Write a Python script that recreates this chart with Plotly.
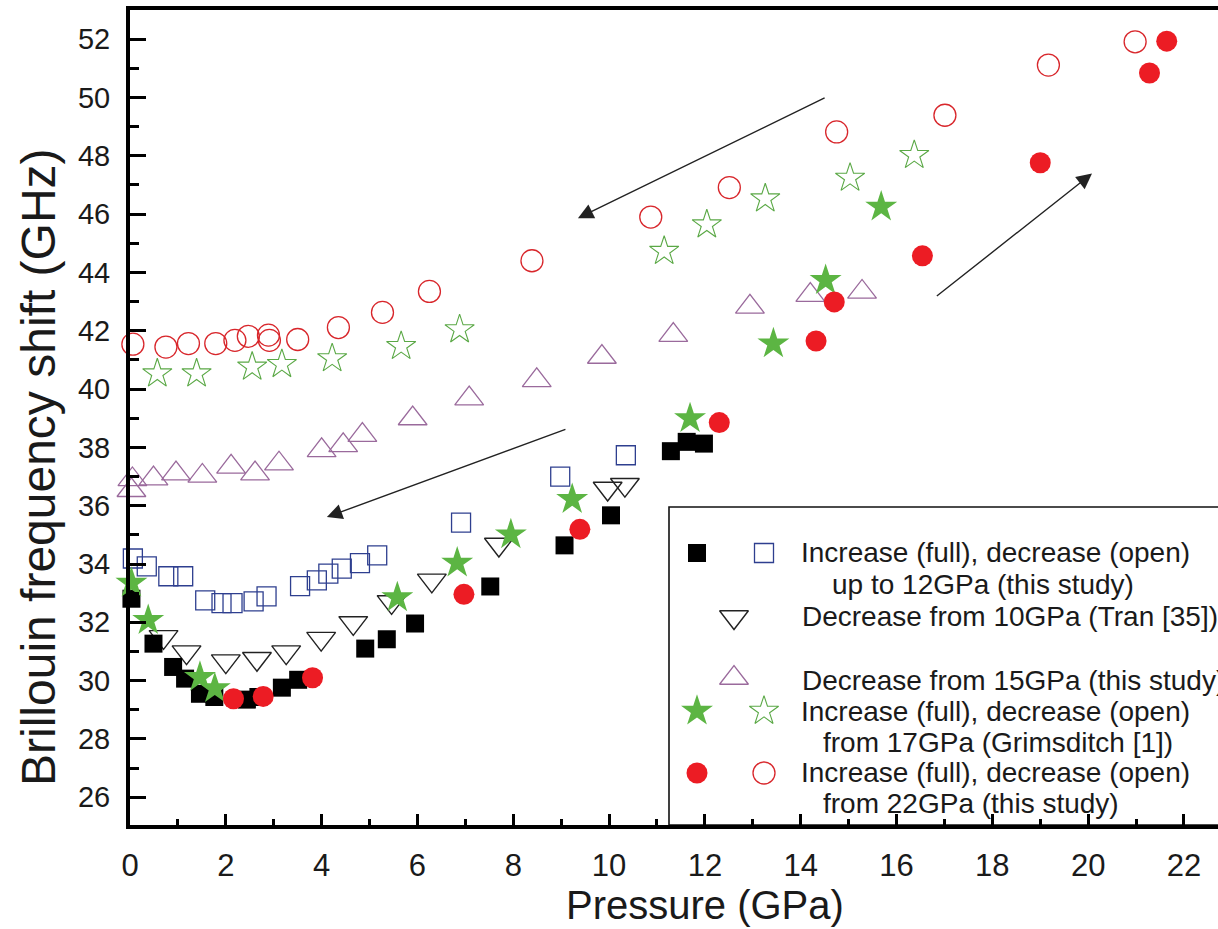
import plotly.graph_objects as go

# ---------------- data ----------------
# Increase (full) up to 12 GPa, this study -- black filled squares
inc12_p = [0.03, 0.49, 0.90, 1.15, 1.46, 1.76, 2.44, 2.68, 3.17, 3.51, 4.91, 5.36, 5.95, 7.52, 9.07, 10.04, 11.29, 11.62, 11.98]
inc12_f = [32.81, 31.27, 30.47, 30.07, 29.55, 29.44, 29.35, 29.44, 29.76, 30.03, 31.10, 31.42, 31.96, 33.23, 34.64, 35.67, 37.87, 38.19, 38.13]
# Decrease (open) from 12 GPa, this study -- blue open squares
dec12_p = [0.06, 0.35, 0.80, 1.11, 1.57, 1.91, 2.14, 2.58, 2.85, 3.55, 3.90, 4.14, 4.42, 4.80, 5.16, 6.91, 8.98, 10.35]
dec12_f = [34.19, 33.92, 33.58, 33.58, 32.75, 32.66, 32.66, 32.72, 32.89, 33.24, 33.44, 33.67, 33.84, 34.03, 34.30, 35.42, 37.00, 37.73]
# Decrease from 10 GPa (Tran [35]) -- open inverted triangles
tran_p = [0.70, 1.18, 2.00, 2.65, 3.26, 3.99, 4.66, 5.46, 6.30, 7.70, 9.97, 10.33]
tran_f = [31.50, 30.98, 30.67, 30.75, 30.98, 31.44, 31.98, 32.70, 33.44, 34.67, 36.59, 36.72]
# Decrease from 15 GPa, this study -- purple open triangles
dec15_p = [0.03, 0.05, 0.49, 0.96, 1.51, 2.11, 2.61, 3.11, 4.00, 4.45, 4.85, 5.90, 7.08, 8.49, 9.85, 11.34, 12.94, 14.20, 15.28]
dec15_f = [36.53, 36.90, 36.93, 37.10, 37.02, 37.33, 37.10, 37.44, 37.90, 38.07, 38.42, 38.99, 39.67, 40.30, 41.10, 41.85, 42.82, 43.22, 43.33]
# Increase (full) up to 17 GPa, Grimsditch [1] -- green filled stars
inc17_p = [0.03, 0.38, 1.46, 1.77, 5.58, 6.83, 7.95, 9.23, 11.69, 13.43, 14.52, 15.68]
inc17_f = [33.35, 32.07, 30.12, 29.73, 32.85, 34.04, 35.01, 36.22, 38.99, 41.56, 43.73, 46.25]
# Decrease (open) from 17 GPa, Grimsditch [1] -- green open stars
dec17_p = [0.57, 1.39, 2.55, 3.17, 4.22, 5.66, 6.88, 11.15, 12.04, 13.26, 15.03, 16.37]
dec17_f = [40.53, 40.53, 40.76, 40.85, 41.05, 41.47, 42.04, 44.73, 45.64, 46.53, 47.24, 48.02]
# Increase (full) up to 22 GPa, this study -- red filled circles
inc22_p = [2.16, 2.78, 3.81, 6.97, 9.39, 12.30, 14.32, 14.70, 16.54, 19.00, 21.28, 21.64]
inc22_f = [29.38, 29.46, 30.10, 32.96, 35.19, 38.85, 41.65, 42.99, 44.57, 47.76, 50.84, 51.93]
# Decrease (open) from 22 GPa, this study -- red open circles
dec22_p = [0.06, 0.75, 1.22, 1.79, 2.19, 2.47, 2.89, 2.91, 3.50, 4.35, 5.27, 6.25, 8.39, 10.87, 12.51, 14.75, 17.01, 19.17, 20.98]
dec22_f = [41.54, 41.44, 41.56, 41.56, 41.67, 41.81, 41.85, 41.67, 41.70, 42.11, 42.63, 43.35, 44.40, 45.90, 46.91, 48.82, 49.39, 51.11, 51.91]

# arrows: (tail_p, tail_f, head_p, head_f)
arrows = [
    (14.53, 50.01, 9.35, 45.86),
    (9.12, 38.64, 4.11, 35.61),
    (16.81, 43.15, 20.08, 47.39),
]

y_ticks = list(range(26, 53, 2))
x_ticks = list(range(0, 23, 2))

legend_lines = [
    "Increase (full), decrease (open)",
    "up to 12GPa (this study)",
    "Decrease from 10GPa (Tran [35])",
    "Decrease from 15GPa (this study)",
    "Increase (full), decrease (open)",
    "from 17GPa (Grimsditch [1])",
    "Increase (full), decrease (open)",
    "from 22GPa (this study)",
]

# ---------------- styling ----------------
FONT = "Liberation Sans, Arial, Helvetica, sans-serif"
W, H = 1218, 929
L, R, T, B = 130, 0, 10, 104
PW, PH = W - L - R, H - T - B

def pxx(x):
    return (x - L) / PW

def pxy(y):
    return (H - B - y) / PH

RED = "#ec1c24"
GREEN = "#5cb543"
BLUE = "#2e3f8f"
PURPLE = "#9a6a9c"

styles = {
    "inc12": dict(symbol="square", size=18, color="#000000", line=dict(width=0)),
    "dec12": dict(symbol="square-open", size=19, color=BLUE, line=dict(width=1.3, color=BLUE)),
    "tran": dict(symbol="triangle-down-open", size=25, color="#222222", line=dict(width=1.4, color="#222222")),
    "dec15": dict(symbol="triangle-up-open", size=25, color=PURPLE, line=dict(width=1.3, color=PURPLE)),
    "inc17": dict(symbol="star", size=24, color=GREEN, line=dict(width=0)),
    "dec17": dict(symbol="star-open", size=22, color="#5aa845", line=dict(width=1.1, color="#5aa845")),
    "inc22": dict(symbol="circle", size=21, color=RED, line=dict(width=0)),
    "dec22": dict(symbol="circle-open", size=22, color="#d8262b", line=dict(width=1.3, color="#d8262b")),
}

fig = go.Figure()

series = [
    ("dec22", dec22_p, dec22_f),
    ("dec17", dec17_p, dec17_f),
    ("dec15", dec15_p, dec15_f),
    ("dec12", dec12_p, dec12_f),
    ("tran", tran_p, tran_f),
    ("inc12", inc12_p, inc12_f),
    ("inc17", inc17_p, inc17_f),
    ("inc22", inc22_p, inc22_f),
]
for key, xs, ys in series:
    fig.add_trace(go.Scatter(x=xs, y=ys, mode="markers", marker=styles[key],
                             showlegend=False, cliponaxis=False, hoverinfo="x+y"))

# legend key symbols on an overlay (paper-like) axis
leg_keys = [
    ("inc12", 697, 553), ("dec12", 764, 553),
    ("tran", 734, 617),
    ("dec15", 734, 678),
    ("inc17", 697, 711), ("dec17", 764, 711),
    ("inc22", 697, 773), ("dec22", 764, 773),
]
for key, xp, yp in leg_keys:
    fig.add_trace(go.Scatter(x=[pxx(xp)], y=[pxy(yp)], mode="markers", marker=styles[key],
                             xaxis="x2", yaxis="y2", showlegend=False, hoverinfo="skip",
                             cliponaxis=False))

annotations = []
# legend texts
leg_text_pos = [
    (995, 553, "center"), (982.6, 585, "center"),
    (799.5, 617, "left"), (799.5, 680, "left"),
    (995, 711, "center"), (997.5, 742, "center"),
    (995, 772, "center"), (971, 803, "center"),
]
for txt, (xp, yp, anc) in zip(legend_lines, leg_text_pos):
    annotations.append(dict(x=pxx(xp), y=pxy(yp), xref="paper", yref="paper", text=txt,
                            showarrow=False, xanchor=anc, yanchor="middle",
                            font=dict(family=FONT, size=28, color="#1a1a1a")))

# arrows
for tp, tf, hp, hf in arrows:
    annotations.append(dict(x=hp, y=hf, ax=tp, ay=tf, xref="x", yref="y", axref="x", ayref="y",
                            text="", showarrow=True, arrowhead=2, arrowsize=2.2, arrowwidth=1.4,
                            arrowcolor="#222222", standoff=0, startstandoff=0))

# axis titles
annotations.append(dict(x=pxx(705), y=pxy(905), xref="paper", yref="paper", text="Pressure (GPa)",
                        showarrow=False, xanchor="center", yanchor="middle",
                        font=dict(family=FONT, size=40, color="#1a1a1a")))
annotations.append(dict(x=pxx(38), y=pxy(467), xref="paper", yref="paper",
                        text="Brillouin frequency shift (GHz)", textangle=-90,
                        showarrow=False, xanchor="center", yanchor="middle",
                        font=dict(family=FONT, size=48, color="#1a1a1a")))

shapes = [
    dict(type="rect", xref="paper", yref="paper", x0=pxx(669), x1=1.05, y0=0, y1=pxy(507),
         line=dict(color="#111111", width=1.6), fillcolor="rgba(0,0,0,0)", layer="below"),
]

fig.update_layout(
    width=W, height=H,
    margin=dict(l=L, r=R, t=T, b=B, pad=0),
    paper_bgcolor="white", plot_bgcolor="white",
    showlegend=False,
    annotations=annotations,
    shapes=shapes,
    xaxis=dict(
        range=[0, 22.71], domain=[0, 1],
        tickvals=x_ticks, ticktext=[str(v) for v in x_ticks],
        ticks="inside", ticklen=11, tickwidth=3, tickcolor="#000",
        minor=dict(dtick=1, tick0=0, ticks="inside", ticklen=6, tickwidth=2.5, tickcolor="#000"),
        showline=True, linewidth=4, linecolor="#000", mirror=True,
        showgrid=False, zeroline=False,
        tickfont=dict(family=FONT, size=31, color="#1a1a1a"),
        ticklabelstandoff=10,
    ),
    yaxis=dict(
        range=[25.05, 53.0], domain=[0, 1],
        tickvals=y_ticks, ticktext=[str(v) for v in y_ticks],
        ticks="inside", ticklen=16, tickwidth=3, tickcolor="#000",
        minor=dict(dtick=1, tick0=0, ticks="inside", ticklen=9, tickwidth=2.5, tickcolor="#000"),
        showline=True, linewidth=4, linecolor="#000", mirror=False,
        showgrid=False, zeroline=False,
        tickfont=dict(family=FONT, size=29, color="#1a1a1a"),
        ticklabelstandoff=10,
    ),
    xaxis2=dict(overlaying="x", range=[0, 1], visible=False, domain=[0, 1]),
    yaxis2=dict(overlaying="y", range=[0, 1], visible=False, domain=[0, 1]),
)

fig.write_html("out.html")
